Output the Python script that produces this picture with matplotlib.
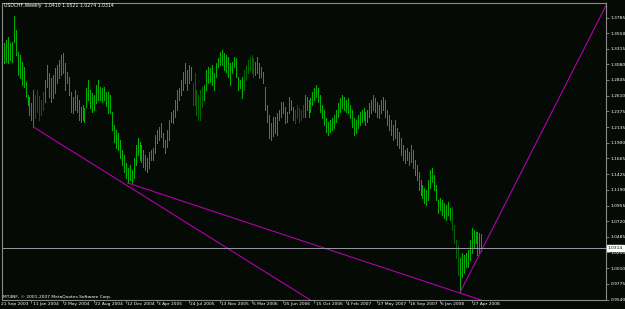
import numpy as np
import matplotlib
matplotlib.use('Agg')
from matplotlib import pyplot as plt
from matplotlib import transforms

# USDCHF weekly bars, first bar = week of 28 Sep 2003 (week 0 = 21 Sep 2003)
weekly_high = [
    1.3627, 1.3401, 1.3446, 1.3491, 1.3401, 1.3416, 1.3808, 1.3597, 1.3266, 1.3220,
    1.3115, 1.3040, 1.2814, 1.2618, 1.2588, 1.2498, 1.2694, 1.2618, 1.2694, 1.2603,
    1.2543, 1.2663, 1.2844, 1.3070, 1.2950, 1.2874, 1.2919, 1.3025, 1.3070, 1.3145,
    1.3220, 1.3250, 1.3100, 1.2965, 1.2889, 1.2663, 1.2588, 1.2694, 1.2618, 1.2543,
    1.2438, 1.2468, 1.2423, 1.2724, 1.2844, 1.2694, 1.2648, 1.2618, 1.2769, 1.2844,
    1.2739, 1.2724, 1.2739, 1.2663, 1.2663, 1.2618, 1.2362, 1.2167, 1.2092, 1.2046,
    1.1941, 1.1790, 1.1715, 1.1595, 1.1519, 1.1565, 1.1489, 1.1670, 1.1866, 1.1971,
    1.1911, 1.1866, 1.1790, 1.1715, 1.1670, 1.1760, 1.1790, 1.1820, 1.2016, 1.2092,
    1.2137, 1.2197, 1.2046, 1.1941, 1.2092, 1.2242, 1.2362, 1.2393, 1.2543, 1.2694,
    1.2724, 1.2844, 1.2965, 1.3100, 1.2995, 1.3070, 1.3040, 1.2799, 1.2950, 1.2694,
    1.2618, 1.2694, 1.2739, 1.2769, 1.2995, 1.3040, 1.3025, 1.3070, 1.2950, 1.3100,
    1.3175, 1.3266, 1.3296, 1.3250, 1.3220, 1.3190, 1.3100, 1.3115, 1.3190, 1.3175,
    1.2889, 1.2844, 1.2889, 1.2995, 1.3070, 1.3145, 1.3190, 1.3220, 1.3175, 1.3115,
    1.3190, 1.3100, 1.3040, 1.2965, 1.2739, 1.2468, 1.2317, 1.2197, 1.2287, 1.2287,
    1.2347, 1.2393, 1.2513, 1.2513, 1.2438, 1.2362, 1.2588, 1.2543, 1.2438, 1.2393,
    1.2468, 1.2423, 1.2393, 1.2468, 1.2618, 1.2588, 1.2543, 1.2573, 1.2663, 1.2724,
    1.2769, 1.2724, 1.2618, 1.2468, 1.2393, 1.2272, 1.2212, 1.2242, 1.2272, 1.2317,
    1.2393, 1.2498, 1.2573, 1.2618, 1.2588, 1.2543, 1.2573, 1.2468, 1.2393, 1.2272,
    1.2242, 1.2317, 1.2362, 1.2393, 1.2423, 1.2362, 1.2393, 1.2498, 1.2543, 1.2618,
    1.2573, 1.2513, 1.2468, 1.2543, 1.2588, 1.2543, 1.2393, 1.2317, 1.2242, 1.2167,
    1.2242, 1.2122, 1.2061, 1.1971, 1.1866, 1.1790, 1.1820, 1.1760, 1.1866, 1.1790,
    1.1640, 1.1565, 1.1459, 1.1339, 1.1264, 1.1218, 1.1188, 1.1339, 1.1489, 1.1519,
    1.1414, 1.1264, 1.1038, 1.1068, 1.1038, 1.0993, 1.0963, 1.1008, 1.0917, 1.0932,
    1.0661, 1.0436, 1.0360, 1.0165, 1.0240, 1.0210, 1.0240, 1.0285, 1.0436, 1.0616,
    1.0586, 1.0556, 1.0556, 1.0541, 1.0521,
]
weekly_low = [
    1.3176, 1.3100, 1.3115, 1.3100, 1.3145, 1.3115, 1.3416, 1.3220, 1.2919, 1.2874,
    1.2769, 1.2739, 1.2588, 1.2468, 1.2317, 1.2242, 1.2137, 1.2272, 1.2362, 1.2242,
    1.2317, 1.2393, 1.2513, 1.2739, 1.2588, 1.2513, 1.2573, 1.2648, 1.2799, 1.2874,
    1.2919, 1.2950, 1.2694, 1.2799, 1.2618, 1.2362, 1.2347, 1.2393, 1.2362, 1.2242,
    1.2212, 1.2242, 1.2212, 1.2438, 1.2543, 1.2423, 1.2362, 1.2393, 1.2498, 1.2543,
    1.2543, 1.2513, 1.2543, 1.2453, 1.2347, 1.2347, 1.2092, 1.1911, 1.1820, 1.1790,
    1.1670, 1.1565, 1.1459, 1.1369, 1.1294, 1.1339, 1.1294, 1.1369, 1.1565, 1.1715,
    1.1640, 1.1610, 1.1535, 1.1489, 1.1459, 1.1519, 1.1640, 1.1640, 1.1745, 1.1896,
    1.1941, 1.1986, 1.1836, 1.1745, 1.1836, 1.1941, 1.2212, 1.2197, 1.2287, 1.2393,
    1.2543, 1.2618, 1.2694, 1.2799, 1.2694, 1.2799, 1.2844, 1.2468, 1.2468, 1.2317,
    1.2242, 1.2242, 1.2438, 1.2543, 1.2694, 1.2799, 1.2814, 1.2769, 1.2694, 1.2889,
    1.3040, 1.3070, 1.3070, 1.2995, 1.2965, 1.2889, 1.2769, 1.2950, 1.3040, 1.2889,
    1.2694, 1.2724, 1.2573, 1.2694, 1.2844, 1.2950, 1.2995, 1.2950, 1.2889, 1.2919,
    1.2950, 1.2874, 1.2889, 1.2799, 1.2393, 1.2212, 1.1971, 1.1941, 1.2001, 1.2046,
    1.2016, 1.2242, 1.2287, 1.2347, 1.2197, 1.2212, 1.2347, 1.2393, 1.2242, 1.2197,
    1.2272, 1.2212, 1.2242, 1.2287, 1.2287, 1.2393, 1.2287, 1.2362, 1.2468, 1.2543,
    1.2588, 1.2513, 1.2362, 1.2272, 1.2167, 1.2061, 1.2016, 1.2061, 1.2092, 1.2122,
    1.2212, 1.2287, 1.2362, 1.2423, 1.2393, 1.2362, 1.2347, 1.2272, 1.2137, 1.2016,
    1.2046, 1.2122, 1.2167, 1.2212, 1.2242, 1.2167, 1.2212, 1.2287, 1.2347, 1.2393,
    1.2362, 1.2287, 1.2272, 1.2347, 1.2393, 1.2287, 1.2167, 1.2092, 1.2016, 1.1941,
    1.1971, 1.1866, 1.1820, 1.1715, 1.1640, 1.1595, 1.1640, 1.1565, 1.1610, 1.1519,
    1.1414, 1.1339, 1.1188, 1.1113, 1.1068, 1.0993, 1.0963, 1.1038, 1.1218, 1.1309,
    1.1188, 1.1038, 1.0842, 1.0887, 1.0812, 1.0767, 1.0737, 1.0812, 1.0737, 1.0586,
    1.0390, 1.0165, 0.9909, 0.9638, 0.9879, 0.9939, 1.0029, 1.0029, 1.0135, 1.0240,
    1.0330, 1.0390, 1.0210, 1.0240, 1.0274,
]

last_bar = [1.0410, 1.0521, 1.0274, 1.0314]  # O H L C

date_labels = ['21 Sep 2003', '11 Jan 2004', '2 May 2004', '22 Aug 2004', '12 Dec 2004',
               '3 Apr 2005', '24 Jul 2005', '13 Nov 2005', '5 Mar 2006', '25 Jun 2006',
               '15 Oct 2006', '4 Feb 2007', '27 May 2007', '16 Sep 2007', '6 Jan 2008',
               '27 Apr 2008']
date_weeks = [0, 16, 32, 48, 64, 80, 96, 112, 128, 144, 160, 176, 192, 208, 224, 240]

price_ticks = [1.3785, 1.3550, 1.3315, 1.3080, 1.2845, 1.2610, 1.2375, 1.2135, 1.1900,
               1.1665, 1.1425, 1.1190, 1.0955, 1.0720, 1.0485, 1.0250, 1.0010, 0.9775,
               0.9540]

# trend lines (week, price)
trend1_weeks = [17, 158]
trend1_prices = [1.2137, 0.9530]
trend2_weeks = [65, 246]
trend2_prices = [1.1294, 0.9520]
trend3_weeks = [234, 309]
trend3_prices = [0.9638, 1.4000]

BG = '#050a05'
FRAME = '#8a8a8a'
BAR = '#00b000'
BAR_DIM = '#006400'
TREND = '#b000b0'
DIM_RANGES = [(17, 21), (97, 102), (123, 128), (149, 153), (229, 232)]


def main():
    highs = np.array(weekly_high)
    lows = np.array(weekly_low)
    weeks = np.arange(1, len(highs) + 1)

    colors = [BAR] * len(highs)
    for a, b in DIM_RANGES:
        for i in range(a, b + 1):
            colors[i] = BAR_DIM

    fig = plt.figure(figsize=(6.25, 3.09), dpi=100, facecolor=BG)
    ax = fig.add_axes([2 / 625, 9 / 309, 604 / 625, 297 / 309])
    ax.set_facecolor(BG)

    ax.vlines(weeks, lows, highs, colors=colors, linewidth=0.72, antialiased=False)

    for wk, pr in [(trend1_weeks, trend1_prices), (trend2_weeks, trend2_prices),
                   (trend3_weeks, trend3_prices)]:
        ax.plot(wk, pr, color=TREND, linewidth=0.8)

    ax.axhline(last_bar[3], color='#9a9aa8', linewidth=0.7)

    ax.set_xlim(1.02, 1.02 + 604 / 1.965)
    ax.set_ylim(0.95325, 1.40033)

    for s in ax.spines.values():
        s.set_color(FRAME)
        s.set_linewidth(0.8)

    ax.yaxis.tick_right()
    ax.set_yticks(price_ticks)
    ax.set_yticklabels(['%.4f' % p for p in price_ticks])
    ax.tick_params(axis='y', colors=FRAME, labelcolor='white', labelsize=3.2,
                   length=2, width=0.6, pad=1.5)

    ax.set_xticks([w for w in date_weeks if w > 1.02])
    ax.set_xticklabels([])
    ax.tick_params(axis='x', colors=FRAME, length=2.5, width=0.6)
    trans = transforms.blended_transform_factory(ax.transData, ax.transAxes)
    for w, lab in zip(date_weeks, date_labels):
        ax.text(w + 0.6, -0.0135, lab, transform=trans, ha='left', va='center',
                fontsize=3.2, color='white', clip_on=False)

    # current price marker on the price scale
    ytrans = ax.get_yaxis_transform()
    ax.text(1.003, last_bar[3], '%.4f' % last_bar[3], transform=ytrans, ha='left',
            va='center', fontsize=3.2, color='black', clip_on=False,
            bbox=dict(facecolor='white', edgecolor='white', pad=0.6))

    fig.text(4 / 625, 1 - 5 / 309,
             'USDCHF,Weekly  %.4f %.4f %.4f %.4f' % tuple(last_bar),
             fontsize=3.3, color='white', ha='left', va='center')
    fig.text(3 / 625, 1 - 297 / 309, 'MT4NF, \u00a9 2001-2007 MetaQuotes Software Corp.',
             fontsize=3.2, color='white', ha='left', va='center')

    fig.savefig('out.png', dpi=100, facecolor=BG)


if __name__ == "__main__":
    main()
